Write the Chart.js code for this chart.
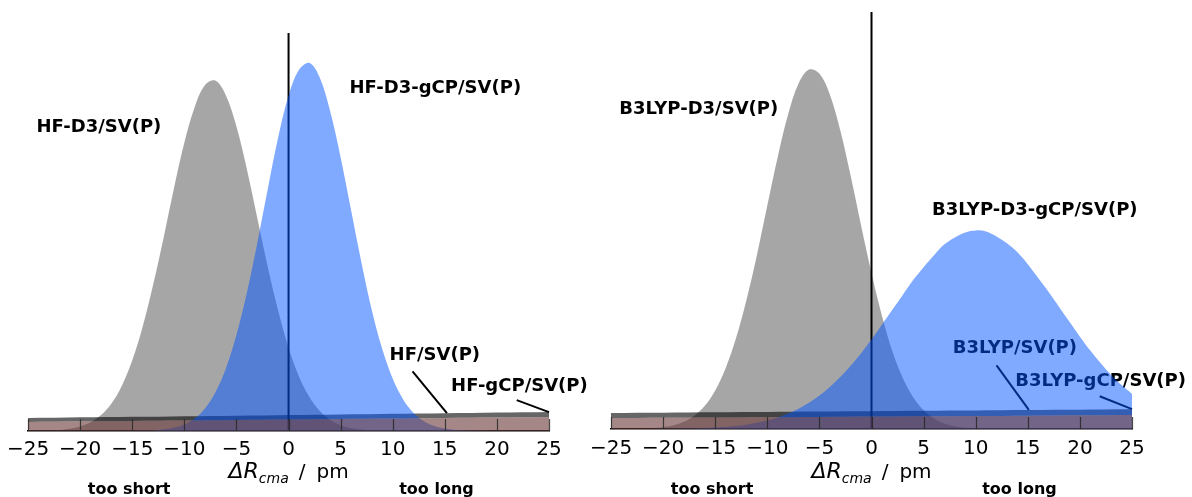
<!DOCTYPE html>
<html>
<head>
<meta charset="utf-8">
<title>ΔR_cma distributions</title>
<script src="https://cdn.jsdelivr.net/npm/chart.js@4.4.1/dist/chart.umd.min.js"></script>
<style>
  html, body { margin: 0; padding: 0; background: #fff; }
  body { width: 1192px; height: 497px; position: relative; overflow: hidden; }
  canvas { position: absolute; top: 0; }
  #hfChart { left: 0; }
  #b3lypChart { left: 580px; }
</style>
</head>
<body>
<canvas id="hfChart" width="600" height="497"></canvas>
<canvas id="b3lypChart" width="612" height="497"></canvas>
<script>
// deviation grid in pm
const pm = [-25, -24, -23, -22, -21, -20, -19, -18, -17, -16, -15, -14, -13, -12, -11, -10, -9, -8, -7, -6, -5, -4, -3, -2, -1,
            0, 1, 2, 3, 4, 5, 6, 7, 8, 9, 10, 11, 12, 13, 14, 15, 16, 17, 18, 19, 20, 21, 22, 23, 24, 25];

// HF panel
const hfD3 = [0, 0.02, 0.05, 0.10, 0.22, 0.45, 0.87, 1.60, 2.77, 4.56, 7.11, 10.5, 14.7, 19.4, 24.4, 29.0, 32.6, 34.8, 35.2, 33.7,
              30.6, 26.3, 21.4, 16.5, 12.1, 8.36, 5.48, 3.41, 2.01, 1.12, 0.59, 0.30, 0.14, 0.06, 0.03, 0.01,
              0, 0, 0, 0, 0, 0, 0, 0, 0, 0, 0, 0, 0, 0, 0];
const hfD3gCP = [0, 0, 0, 0, 0, 0, 0, 0, 0, 0, 0.01, 0.03, 0.06, 0.15, 0.32, 0.65, 1.25, 2.28, 3.91, 6.33,
                 9.67, 13.9, 18.9, 24.3, 29.5, 33.7, 36.3, 37.0, 35.5, 32.1, 27.5, 22.2, 16.9, 12.1, 8.21, 5.25,
                 3.17, 1.81, 0.97, 0.49, 0.24, 0.11, 0.05, 0.02, 0, 0, 0, 0, 0, 0, 0];

// B3LYP panel
const b3lypD3 = [0, 0.01, 0.02, 0.04, 0.09, 0.18, 0.38, 0.73, 1.34, 2.34, 3.89, 6.13, 9.17, 13.0, 17.5, 22.5, 27.4, 31.7, 34.8, 36.2,
                 35.8, 33.7, 30.1, 25.5, 20.5, 15.7, 11.4, 7.84, 5.14, 3.20, 1.89, 1.06, 0.56, 0.28, 0.13, 0.06, 0.02,
                 0, 0, 0, 0, 0, 0, 0, 0, 0, 0, 0, 0, 0, 0];
const b3lypD3gCP = [0, 0, 0, 0.01, 0.01, 0.02, 0.03, 0.04, 0.06, 0.10, 0.15, 0.21, 0.31, 0.44, 0.62, 0.85, 1.16, 1.55, 2.04, 2.64,
                    3.37, 4.23, 5.23, 6.37, 7.64, 9.01, 10.5, 12.0, 13.5, 15.0, 16.3, 17.5, 18.6, 19.3, 19.8, 20.0,
                    19.9, 19.4, 18.7, 17.8, 16.6, 15.2, 13.8, 12.3, 10.8, 9.30, 7.90, 6.62, 5.45, 4.42, 3.53];

// the very broad uncorrected distributions (nearly flat)
const flatPm = [-25, -15, -5, 5, 15, 25];
const hfPlain = [1.3, 1.42, 1.54, 1.66, 1.78, 1.9];
const hfGcp = [0.9, 1.0, 1.1, 1.2, 1.3, 1.4];
const b3lypPlain = [1.6, 1.68, 1.76, 1.84, 1.92, 2.0];
const b3lypGcp = [1.1, 1.16, 1.22, 1.28, 1.34, 1.4];

const tickPm = [-25, -20, -15, -10, -5, 0, 5, 10, 15, 20, 25];

const FONT = '"DejaVu Sans", "Liberation Sans", sans-serif';

function toPoints(xs, ys) {
    return xs.map((x, i) => ({ x: x, y: ys[i] }));
}

function areaSet(label, xs, ys, color, fill) {
    return {
        label: label,
        data: toPoints(xs, ys),
        fill: fill,
        backgroundColor: color,
        borderColor: 'transparent',
        borderWidth: 0,
        pointRadius: 0,
        tension: 0.35
    };
}

// labels, pointers, upward ticks and the axis caption
function panelDecor(p) {
    return {
        id: 'panelDecor',
        beforeDatasetsDraw(chart) {
            const { ctx, scales: { x, y } } = chart;
            ctx.save();
            ctx.fillStyle = '#000';
            ctx.strokeStyle = '#000';
            ctx.lineWidth = 2;
            ctx.font = 'bold 18px ' + FONT;
            ctx.textBaseline = 'middle';
            p.notes.forEach(n => {
                ctx.fillText(n.text, x.getPixelForValue(n.x), y.getPixelForValue(n.y));
                if (n.from) {
                    ctx.beginPath();
                    ctx.moveTo(x.getPixelForValue(n.from[0]), y.getPixelForValue(n.from[1]));
                    ctx.lineTo(x.getPixelForValue(n.to[0]), y.getPixelForValue(n.to[1]));
                    ctx.stroke();
                }
            });
            ctx.restore();
        },
        afterDatasetsDraw(chart) {
            const { ctx, chartArea, scales: { x } } = chart;
            ctx.save();
            ctx.strokeStyle = 'rgba(40,40,40,0.85)';
            ctx.lineWidth = 1.2;
            tickPm.forEach(v => {
                const px = Math.round(x.getPixelForValue(v)) + 0.5;
                ctx.beginPath();
                ctx.moveTo(px, chartArea.bottom);
                ctx.lineTo(px, chartArea.bottom - 12);
                ctx.stroke();
            });
            ctx.restore();
        },
        afterDraw(chart) {
            const { ctx, chartArea, scales: { x } } = chart;
            const cx = x.getPixelForValue(0);
            const base = chartArea.bottom + p.titleOffset;
            const parts = [
                { t: 'ΔR', font: 'italic 22px ' + FONT, dy: 0, gap: 0 },
                { t: 'cma', font: 'italic 14px ' + FONT, dy: 5, gap: 10 },
                { t: '/', font: '20px ' + FONT, dy: 0, gap: 11 },
                { t: 'pm', font: '20px ' + FONT, dy: 0, gap: 0 }
            ];
            ctx.save();
            ctx.fillStyle = '#000';
            ctx.textBaseline = 'alphabetic';
            let total = 0;
            parts.forEach(s => { ctx.font = s.font; s.w = ctx.measureText(s.t).width; total += s.w + s.gap; });
            let left = cx - total / 2;
            parts.forEach(s => {
                ctx.font = s.font;
                ctx.fillText(s.t, left, base + s.dy);
                left += s.w + s.gap;
            });
            ctx.font = 'bold 16px ' + FONT;
            ctx.textAlign = 'center';
            ctx.fillText('too short', x.getPixelForValue(-15.3), chartArea.bottom + p.sideOffset);
            ctx.fillText('too long', x.getPixelForValue(14.2), chartArea.bottom + p.sideOffset);
            ctx.restore();
        }
    };
}

function buildPanel(canvasId, p) {
    const ctx = document.getElementById(canvasId);
    return new Chart(ctx, {
        type: 'line',
        data: {
            datasets: [
                areaSet(p.names[0], flatPm, p.gcpBand, 'rgba(105,55,55,0.6)', 'origin'),
                areaSet(p.names[1], pm, p.d3gcp, 'rgba(0,85,255,0.5)', 'origin'),
                areaSet(p.names[2], pm, p.d3, 'rgba(0,0,0,0.35)', 'origin'),
                areaSet(p.names[3], flatPm, p.plainBand, 'rgba(0,0,0,0.6)', '-3'),
                {
                    label: 'zero',
                    data: [{ x: 0, y: 0 }, { x: 0, y: p.yMax }],
                    borderColor: '#000',
                    borderWidth: 2,
                    pointRadius: 0,
                    fill: false
                }
            ]
        },
        options: {
            responsive: false,
            animation: false,
            events: [],
            layout: { padding: p.padding },
            plugins: {
                legend: { display: false },
                tooltip: { enabled: false }
            },
            scales: {
                x: {
                    type: 'linear',
                    min: -25,
                    max: 25,
                    afterBuildTicks: s => { s.ticks = tickPm.map(v => ({ value: v })); },
                    afterFit: s => { s.height = p.axisHeight; },
                    grid: { drawOnChartArea: false, drawTicks: false },
                    border: { display: true, color: '#000', width: 1.6 },
                    ticks: {
                        padding: p.tickPad,
                        color: '#000',
                        autoSkip: false,
                        maxRotation: 0,
                        font: { family: FONT, size: 20 },
                        callback: v => (v < 0 ? '\u2212' + Math.abs(v) : String(v))
                    }
                },
                y: { display: false, min: 0, max: p.yMax }
            }
        },
        plugins: [panelDecor(p)]
    });
}

buildPanel('hfChart', {
    names: ['HF-gCP/SV(P)', 'HF-D3-gCP/SV(P)', 'HF-D3/SV(P)', 'HF/SV(P)'],
    d3: hfD3, d3gcp: hfD3gCP, plainBand: hfPlain, gcpBand: hfGcp,
    yMax: 40,
    padding: { left: 28, right: 51, top: 33, bottom: 0 },
    axisHeight: 66, tickPad: 7, titleOffset: 47, sideOffset: 63,
    notes: [
        { text: 'HF-D3/SV(P)', x: -24.2, y: 30.5 },
        { text: 'HF-D3-gCP/SV(P)', x: 5.85, y: 34.4 },
        { text: 'HF/SV(P)', x: 9.7, y: 7.6, from: [11.9, 6.0], to: [15.2, 1.8] },
        { text: 'HF-gCP/SV(P)', x: 15.6, y: 4.5, from: [21.9, 3.1], to: [25, 1.9] }
    ]
});

buildPanel('b3lypChart', {
    names: ['B3LYP-gCP/SV(P)', 'B3LYP-D3-gCP/SV(P)', 'B3LYP-D3/SV(P)', 'B3LYP/SV(P)'],
    d3: b3lypD3, d3gcp: b3lypD3gCP, plainBand: b3lypPlain, gcpBand: b3lypGcp,
    yMax: 42,
    padding: { left: 31, right: 60, top: 12, bottom: 0 },
    axisHeight: 68, tickPad: 8, titleOffset: 49, sideOffset: 65,
    notes: [
        { text: 'B3LYP-D3/SV(P)', x: -24.2, y: 32.2 },
        { text: 'B3LYP-D3-gCP/SV(P)', x: 5.8, y: 22.0 },
        { text: 'B3LYP/SV(P)', x: 7.8, y: 8.1, from: [12.0, 6.4], to: [15.1, 1.92] },
        { text: 'B3LYP-gCP/SV(P)', x: 13.8, y: 4.8, from: [21.9, 3.3], to: [25, 2.0] }
    ]
});
</script>
</body>
</html>
